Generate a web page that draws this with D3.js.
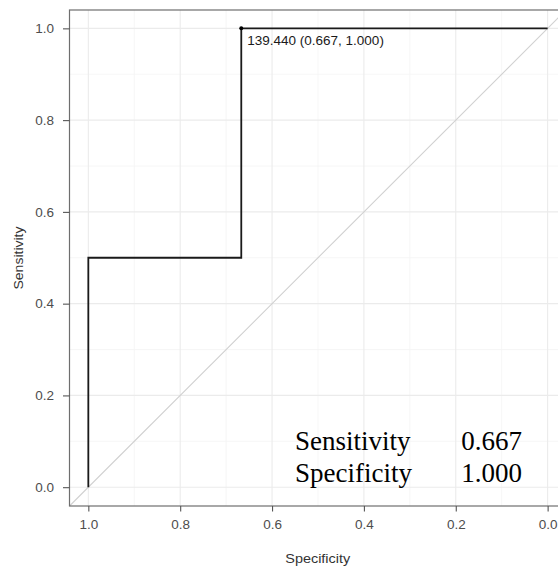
<!DOCTYPE html>
<html>
<head>
<meta charset="utf-8">
<script src="https://cdn.jsdelivr.net/npm/d3@7"></script>
<style>
  html, body { margin: 0; padding: 0; background: #fff; }
  svg { display: block; }
</style>
</head>
<body>
<svg id="chart" width="558" height="568"></svg>
<script>
// ---- data ----
const specificity = [1.0, 1.0, 0.667, 0.667, 0.0];
const sensitivity = [0.0, 0.5, 0.5, 1.0, 1.0];
const xTickValues = [1.0, 0.8, 0.6, 0.4, 0.2, 0.0];
const yTickValues = [0.0, 0.2, 0.4, 0.6, 0.8, 1.0];
const xMinorValues = [0.9, 0.7, 0.5, 0.3, 0.1];
const yMinorValues = [0.1, 0.3, 0.5, 0.7, 0.9];
const bestThreshold = [139.440];
const bestSpec = [0.667];
const bestSens = [1.000];
const statNames = ["Sensitivity", "Specificity"];
const statValues = ["0.667", "1.000"];
const xTitle = "Specificity";
const yTitle = "Sensitivity";

// ---- layout ----
const svg = d3.select("#chart");
const panel = { left: 69.5, top: 10, right: 566, bottom: 506 };
const x = d3.scaleLinear().domain([1.041, -0.04]).range([panel.left, panel.right]);
const y = d3.scaleLinear().domain([-0.041, 1.04]).range([panel.bottom, panel.top]);

const g = svg.append("g");
g.append("rect")
  .attr("x", panel.left).attr("y", panel.top)
  .attr("width", panel.right - panel.left).attr("height", panel.bottom - panel.top)
  .attr("fill", "#fff");

// minor grid
g.selectAll(".xminor").data(xMinorValues).join("line")
  .attr("x1", d => x(d)).attr("x2", d => x(d))
  .attr("y1", panel.top).attr("y2", panel.bottom)
  .attr("stroke", "#f4f4f4").attr("stroke-width", 0.8);
g.selectAll(".yminor").data(yMinorValues).join("line")
  .attr("y1", d => y(d)).attr("y2", d => y(d))
  .attr("x1", panel.left).attr("x2", panel.right)
  .attr("stroke", "#f4f4f4").attr("stroke-width", 0.8);
// major grid
g.selectAll(".xmajor").data(xTickValues).join("line")
  .attr("x1", d => x(d)).attr("x2", d => x(d))
  .attr("y1", panel.top).attr("y2", panel.bottom)
  .attr("stroke", "#ebebeb").attr("stroke-width", 1.1);
g.selectAll(".ymajor").data(yTickValues).join("line")
  .attr("y1", d => y(d)).attr("y2", d => y(d))
  .attr("x1", panel.left).attr("x2", panel.right)
  .attr("stroke", "#ebebeb").attr("stroke-width", 1.1);

// diagonal reference (abline across the panel)
g.append("line")
  .attr("x1", x(1.041)).attr("y1", y(-0.041))
  .attr("x2", x(-0.04)).attr("y2", y(1.04))
  .attr("stroke", "#d0d0d0").attr("stroke-width", 1.1);

// ROC curve
const line = d3.line().x(d => x(d[0])).y(d => y(d[1]));
g.append("path")
  .datum(specificity.map((s, i) => [s, sensitivity[i]]))
  .attr("d", line)
  .attr("fill", "none").attr("stroke", "#1a1a1a").attr("stroke-width", 1.8);

// best point
g.append("circle")
  .attr("cx", x(bestSpec[0])).attr("cy", y(bestSens[0])).attr("r", 2)
  .attr("fill", "#000");
g.append("text")
  .attr("x", x(bestSpec[0]) + 6).attr("y", y(bestSens[0]) + 16.5)
  .attr("font-family", "Liberation Sans, Arial, sans-serif")
  .attr("font-size", 13.5).attr("fill", "#1a1a1a")
  .text(`${bestThreshold[0].toFixed(3)} (${bestSpec[0].toFixed(3)}, ${bestSens[0].toFixed(3)})`);

// panel border
g.append("rect")
  .attr("x", panel.left).attr("y", panel.top)
  .attr("width", panel.right - panel.left).attr("height", panel.bottom - panel.top)
  .attr("fill", "none").attr("stroke", "#6e6e6e").attr("stroke-width", 1.2);

// axes
const fmt = d3.format(".1f");
const xAxis = svg.append("g").attr("transform", `translate(0,${panel.bottom})`)
  .call(d3.axisBottom(x).tickValues(xTickValues).tickFormat(fmt).tickSize(5.5).tickPadding(3));
const yAxis = svg.append("g").attr("transform", `translate(${panel.left},0)`)
  .call(d3.axisLeft(y).tickValues(yTickValues).tickFormat(fmt).tickSize(6.5).tickPadding(9));
[xAxis, yAxis].forEach(a => {
  a.select(".domain").remove();
  a.selectAll(".tick line").attr("stroke", "#555").attr("stroke-width", 1.1);
  a.selectAll(".tick text")
    .attr("font-family", "Liberation Sans, Arial, sans-serif")
    .attr("font-size", 13.5).attr("fill", "#4d4d4d");
});
xAxis.selectAll(".tick text").attr("dy", "1.05em");

// axis titles
svg.append("text")
  .attr("x", (panel.left + panel.right) / 2).attr("y", 563)
  .attr("text-anchor", "middle")
  .attr("font-family", "Liberation Sans, Arial, sans-serif")
  .attr("font-size", 12.5).attr("fill", "#333")
  .attr("textLength", 65).attr("lengthAdjust", "spacingAndGlyphs")
  .text(xTitle);
svg.append("text")
  .attr("transform", `translate(23,${(panel.top + panel.bottom) / 2}) rotate(-90)`)
  .attr("text-anchor", "middle")
  .attr("font-family", "Liberation Sans, Arial, sans-serif")
  .attr("font-size", 12.5).attr("fill", "#333")
  .attr("textLength", 63).attr("lengthAdjust", "spacingAndGlyphs")
  .text(yTitle);

// stats annotation
const statX0 = x(0.55), statX1 = x(0.056);
const statY = [y(0.081), y(0.011)];
statNames.forEach((n, i) => {
  svg.append("text")
    .attr("x", statX0).attr("y", statY[i])
    .attr("font-family", "Liberation Serif, Times New Roman, serif")
    .attr("font-size", 27).attr("fill", "#000")
    .text(n);
  svg.append("text")
    .attr("x", statX1).attr("y", statY[i])
    .attr("text-anchor", "end")
    .attr("font-family", "Liberation Serif, Times New Roman, serif")
    .attr("font-size", 27).attr("fill", "#000")
    .text(statValues[i]);
});
</script>
</body>
</html>
